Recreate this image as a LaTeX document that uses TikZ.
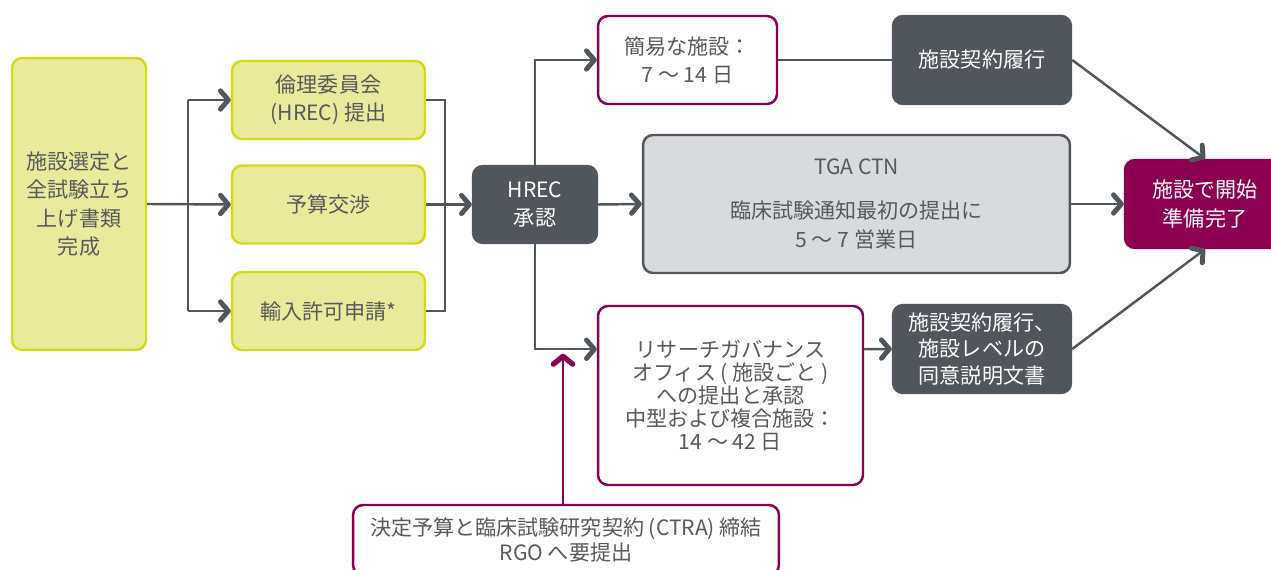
\documentclass[tikz,border=0pt]{standalone}
\usepackage{fontspec}
\newfontfamily\cjk{Noto Sans CJK JP}
\usetikzlibrary{arrows.meta,calc}
\definecolor{ylwfill}{HTML}{E9EA9C}
\definecolor{ylwline}{HTML}{D3DB12}
\definecolor{dgray}{HTML}{50565C}
\definecolor{maroon}{HTML}{8B0051}
\definecolor{lgray}{HTML}{D9DADC}
\definecolor{txtgray}{HTML}{58595B}
\begin{document}
\begin{tikzpicture}[x=0.02cm,y=-0.02cm,
  base/.style={rounded corners=0.2cm,line width=1.4pt,align=center,inner sep=0pt,
    font=\cjk\fontsize{12}{16}\selectfont},
  ybox/.style={base,draw=ylwline,fill=ylwfill,text=txtgray},
  dbox/.style={base,draw=dgray,fill=dgray,text=white},
  mbox/.style={base,draw=maroon,fill=white,text=txtgray},
  gbox/.style={base,draw=dgray,fill=lgray,text=txtgray},
  fbox/.style={base,draw=maroon,fill=maroon,text=white},
  conn/.style={draw=dgray,line width=1.4pt},
  arr/.style={conn,-{Straight Barb[length=4.5pt,width=10.5pt,line width=2.8pt,round]}},
  marr/.style={draw=maroon,line width=1.4pt,-{Straight Barb[length=4.5pt,width=11pt,line width=3pt,round]}}
]
\useasboundingbox (0,0) rectangle (1271,570);
% nodes
\node[ybox,minimum width=2.68cm,minimum height=5.84cm] (A) at (79,204) {施設選定と\\全試験立ち\\上げ書類\\完成};
\node[ybox,minimum width=3.86cm,minimum height=1.56cm] (B1) at (328.5,100) {倫理委員会\\(HREC) 提出};
\node[ybox,minimum width=3.86cm,minimum height=1.56cm] (B2) at (328.5,204.5) {予算交渉};
\node[ybox,minimum width=3.86cm,minimum height=1.56cm] (B3) at (328.5,311) {輸入許可申請*};
\node[dbox,minimum width=2.48cm,minimum height=1.54cm] (H) at (535,204.5) {HREC\\承認};
\node[mbox,minimum width=3.58cm,minimum height=1.76cm] (S1) at (687.5,60) {簡易な施設：\\7 ～ 14 日};
\node[dbox,minimum width=3.56cm,minimum height=1.76cm] (K1) at (982,60) {施設契約履行};
\node[gbox,minimum width=8.54cm,minimum height=2.76cm] (T) at (856.5,204) {TGA CTN\\[9pt]臨床試験通知最初の提出に\\5 ～ 7 営業日};
\node[fbox,minimum width=3.2cm,minimum height=1.76cm] (F) at (1205,204) {施設で開始\\準備完了};
\node[mbox,minimum width=5.3cm,minimum height=3.58cm,font=\cjk\fontsize{12}{13}\selectfont] (R) at (730.5,395.5) {リサーチガバナンス\\オフィス ( 施設ごと )\\への提出と承認\\中型および複合施設：\\14 ～ 42 日};
\node[dbox,minimum width=3.56cm,minimum height=1.76cm,font=\cjk\fontsize{12}{15}\selectfont] (K2) at (982,349) {施設契約履行、\\施設レベルの\\同意説明文書};
\node[mbox,minimum width=8.52cm,minimum height=1.4cm,font=\cjk\fontsize{12}{14}\selectfont] (Bot) at (566,540) {決定予算と臨床試験研究契約 (CTRA) 締結\\RGO へ要提出};
% connectors
\coordinate (sp) at (188,204);
\coordinate (mg) at (445,204);
\draw[arr] (A.east) -- (B2.west);
\draw[conn] (sp |- B1.west) -- (sp |- B3.west);
\draw[arr] (sp |- B1.west) -- (B1.west);
\draw[arr] (sp |- B3.west) -- (B3.west);
\draw[conn] (B1.east) -| (mg);
\draw[conn] (B3.east) -| (mg);
\draw[arr] (B2.east) -- (H.west);
\coordinate (rin) at ($(R.north west)!0.245!(R.south west)$);
\draw[arr] (H.north) |- (S1.west);
\draw[arr] (H.south) |- (rin);
\draw[arr] (H.east) -- (T.west);
\draw[conn] (S1.east) -- (K1.west);
\draw[arr] (T.east) -- (F.west);
\draw[arr] (rin -| R.east) -- (K2.west);
\draw[arr] (K1.east) -- (F.north);
\draw[arr] (K2.east) -- (F.south);
\draw[marr,shorten >=2.5pt] (Bot.north -| 563,0) -- (rin -| 563,0);
\end{tikzpicture}
\end{document}
